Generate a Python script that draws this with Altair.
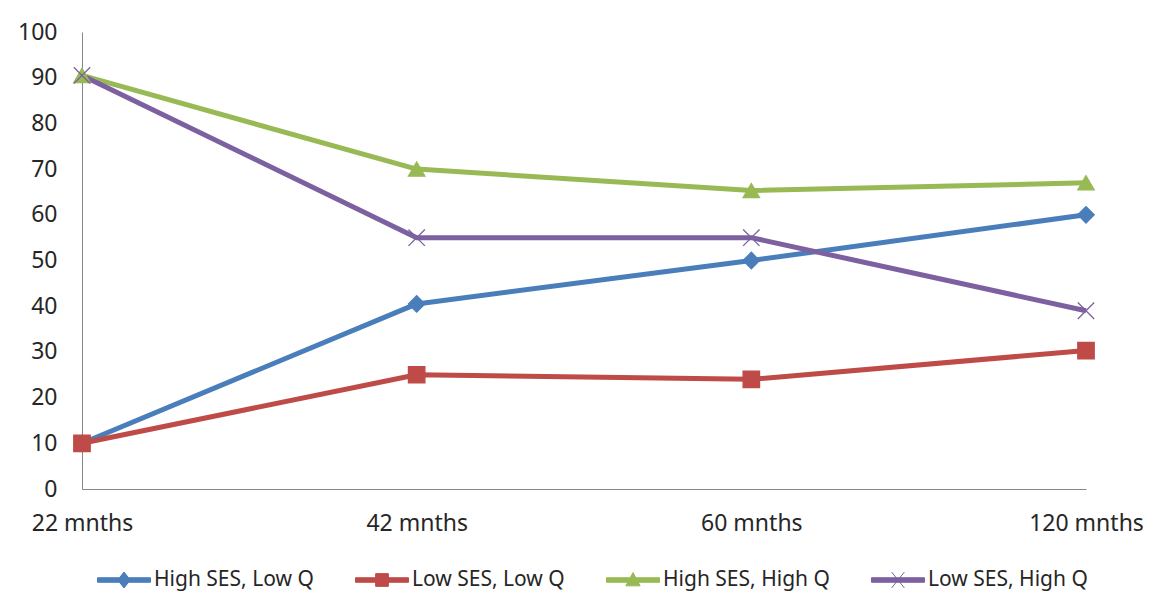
import altair as alt
import pandas as pd

periods = ["22 mnths", "42 mnths", "60 mnths", "120 mnths"]
series = ["High SES, Low Q", "Low SES, Low Q", "High SES, High Q", "Low SES, High Q"]
high_ses_low_q = [10, 40.5, 50, 60]
low_ses_low_q = [10, 25, 24, 30.3]
high_ses_high_q = [90.5, 70, 65.3, 67]
low_ses_high_q = [90.5, 55, 55, 39]
y_ticks = [0, 10, 20, 30, 40, 50, 60, 70, 80, 90, 100]

colors = ["#4A7EBB", "#BE4B48", "#98B954", "#7D60A0"]
x_path = "M-1,-1L1,1M-1,1L1,-1"
shapes = ["diamond", "square", "triangle-up", x_path]

rows = []
for name, vals in zip(series, [high_ses_low_q, low_ses_low_q, high_ses_high_q, low_ses_high_q]):
    for p, v in zip(periods, vals):
        rows.append({"period": p, "value": v, "series": name})
df = pd.DataFrame(rows)

FONT = "Noto Sans"
LEG_SIZE = 2809

# legend symbols: a line segment with the series marker in its middle
bar = "M-1,-0.085H1V0.085H-1Z"
leg_paths = [
    bar + "M0,-0.3L0.24,0L0,0.3L-0.24,0Z",
    bar + "M-0.24,-0.24H0.24V0.24H-0.24Z",
    bar + "M0,-0.28L0.27,0.22H-0.27Z",
    bar + "M-0.24,-0.3L0.24,0.3M-0.24,0.3L0.24,-0.3",
]

legend = alt.Legend(
    title=None,
    orient="none",
    legendX=15,
    legendY=521,
    direction="horizontal",
    columns=4,
    columnPadding=39,
    symbolSize=LEG_SIZE,
    symbolStrokeWidth=1,
    symbolOpacity=1,
    labelFont=FONT,
    labelFontSize=21,
    labelColor="#262626",
    labelOffset=3,
    labelLimit=400,
)

x_enc = alt.X(
    "period:N",
    sort=periods,
    scale=alt.Scale(type="point", padding=0),
    axis=alt.Axis(
        title=None,
        labelAngle=0,
        ticks=False,
        labelPadding=23,
        labelFont=FONT,
        labelFontSize=23,
        labelColor="#262626",
        domainColor="#868686",
        grid=False,
    ),
)
y_enc = alt.Y(
    "value:Q",
    scale=alt.Scale(domain=[0, 100], nice=False),
    axis=alt.Axis(
        title=None,
        values=y_ticks,
        ticks=False,
        labelPadding=25,
        labelFont=FONT,
        labelFontSize=23,
        labelColor="#262626",
        domainColor="#868686",
        grid=False,
    ),
)

lines = alt.Chart(df).mark_line(strokeWidth=5, strokeJoin="round").encode(
    x=x_enc,
    y=y_enc,
    color=alt.Color("series:N", scale=alt.Scale(domain=series, range=colors), legend=None, sort=series),
    detail="series:N",
)

points = alt.Chart(df).mark_point(filled=True, opacity=1, strokeWidth=1.3, size=270).encode(
    x=x_enc,
    y=y_enc,
    color=alt.Color("series:N", scale=alt.Scale(domain=series, range=colors), legend=None, sort=series),
    stroke=alt.Stroke("series:N", scale=alt.Scale(domain=series, range=colors), legend=None),
    shape=alt.Shape("series:N", scale=alt.Scale(domain=series, range=shapes), legend=None),
)

legend_layer = (
    alt.Chart(df)
    .transform_filter("false")
    .mark_point(filled=True, opacity=1, strokeWidth=1, size=LEG_SIZE)
    .encode(
        x=x_enc,
        y=y_enc,
        color=alt.Color("series:N", scale=alt.Scale(domain=series, range=colors), legend=legend, sort=series),
        stroke=alt.Stroke("series:N", scale=alt.Scale(domain=series, range=colors), legend=legend),
        shape=alt.Shape("series:N", scale=alt.Scale(domain=series, range=leg_paths), legend=legend),
    )
)

chart = (
    alt.layer(lines, points, legend_layer)
    .resolve_scale(shape="independent", color="independent", stroke="independent")
    .properties(
        width=1004,
        height=457,
        background="white",
        view=alt.ViewBackground(stroke="transparent", strokeWidth=0, strokeOpacity=0),
        autosize=alt.AutoSizeParams(type="none"),
        padding={"left": 74, "top": 24, "right": 63, "bottom": 112},
    )
    .configure_view(stroke="transparent", strokeWidth=0, strokeOpacity=0)
)

chart.save("out.html", embed_options={"renderer": "svg", "actions": False})
